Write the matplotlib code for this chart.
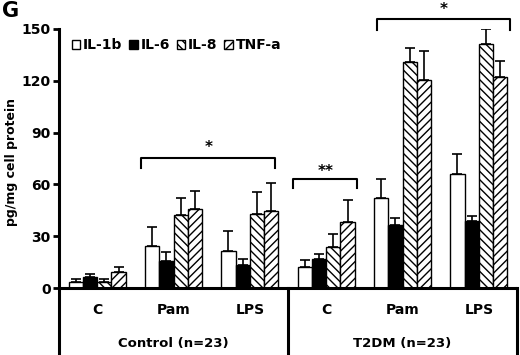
import matplotlib
matplotlib.use("Agg")
import matplotlib.pyplot as plt
from matplotlib.patches import Patch
import numpy as np

plt.rcParams['font.family'] = ['DejaVu Sans']
plt.rcParams['font.weight'] = 'bold'
plt.rcParams['hatch.linewidth'] = 1.0

groups = ["C", "Pam", "LPS", "C", "Pam", "LPS"]
cohorts = ["Control (n=23)", "T2DM (n=23)"]
series = ["IL-1b", "IL-6", "IL-8", "TNF-a"]

il1b = [3.3, 24.3, 21.6, 12.0, 51.9, 65.8]
il1b_err = [2.0, 10.8, 11.4, 4.2, 11.0, 12.0]
il6 = [6.2, 15.4, 13.5, 17.0, 36.5, 38.6]
il6_err = [1.8, 5.2, 3.3, 2.5, 4.2, 2.9]
il8 = [3.3, 42.0, 42.7, 23.5, 130.7, 141.1]
il8_err = [2.0, 10.1, 12.7, 7.6, 8.1, 8.7]
tnf = [9.4, 45.9, 44.8, 38.0, 120.6, 122.0]
tnf_err = [2.7, 10.2, 16.2, 12.8, 16.8, 9.4]

values = [il1b, il6, il8, tnf]
errors = [il1b_err, il6_err, il8_err, tnf_err]
faces = ["white", "black", "white", "white"]
hatches = [None, None, "\\\\\\\\", "////"]

fig = plt.figure(figsize=(5.2, 3.55), dpi=100)
ax = fig.add_axes([59/520, 0, (517-59)/520, 1 - 29/355])
ymin = -38.8
ax.set_ylim(ymin, 150)
ax.set_xlim(-0.5, 5.5)

x = np.arange(len(groups))
w = 0.1875
for k in range(4):
    pos = x + (k - 1.5) * w
    ax.bar(pos, values[k], width=w, color=faces[k], edgecolor="black",
           linewidth=1.0, hatch=hatches[k], zorder=2)
    ax.errorbar(pos, values[k], yerr=[np.zeros(len(groups)), errors[k]],
                fmt="none", ecolor="black", elinewidth=1.2, capsize=3.6,
                capthick=1.2, zorder=3)

# axes styling
for s in ["top", "right", "bottom"]:
    ax.spines[s].set_visible(False)
ax.spines["left"].set_linewidth(2.2)
ax.set_yticks([0, 30, 60, 90, 120, 150])
ax.tick_params(axis="y", length=4, width=2, labelsize=10, pad=2)
ax.set_xticks([])
ax.axhline(0, color="black", lw=2.2, zorder=4)
for xs in [2.5, 5.5]:
    ax.plot([xs, xs], [ymin, 0], color="black", lw=2.2, clip_on=False, zorder=4)

# group labels
for i, g in enumerate(groups):
    ax.text(x[i], -12.5, g, ha="center", va="center", fontsize=10, fontweight="bold")
ax.text(1.0, -32, cohorts[0], ha="center", va="center", fontsize=9.5, fontweight="bold")
ax.text(4.0, -32, cohorts[1], ha="center", va="center", fontsize=9.5, fontweight="bold")

ax.set_ylabel("pg/mg cell protein", fontsize=9, fontweight="bold", va="center")
ax.yaxis.set_label_coords((12 - 59) / 458, (73 - ymin) / (150 - ymin))

# significance brackets
def bracket(x0, x1, y, drop, label, ty):
    ax.plot([x0, x0, x1, x1], [y - drop, y, y, y - drop], color="black", lw=1.5,
            clip_on=False)
    ax.text((x0 + x1) / 2, ty, label, ha="center", va="center", fontsize=11,
            fontweight="bold", clip_on=False)

bracket(0.58, 2.33, 75.5, 5.8, "*", 81.5)
bracket(2.57, 3.41, 62.9, 5.2, "**", 67.5)
bracket(3.66, 5.41, 155.6, 6.2, "*", 161.5)

handles = [Patch(facecolor=faces[k], edgecolor="black", hatch=hatches[k], linewidth=1.0)
           for k in range(4)]
fig.legend(handles, series, loc="center left", bbox_to_anchor=(72/520, 1 - 45/355),
           ncol=4, frameon=False, fontsize=10, handlelength=0.6, handleheight=0.6,
           handletextpad=0.2, columnspacing=0.5, borderpad=0, borderaxespad=0)

fig.text(2/520, 1 - 11/355, "G", fontsize=15, fontweight="bold", va="center", ha="left")

fig.savefig("out.png", dpi=100)
